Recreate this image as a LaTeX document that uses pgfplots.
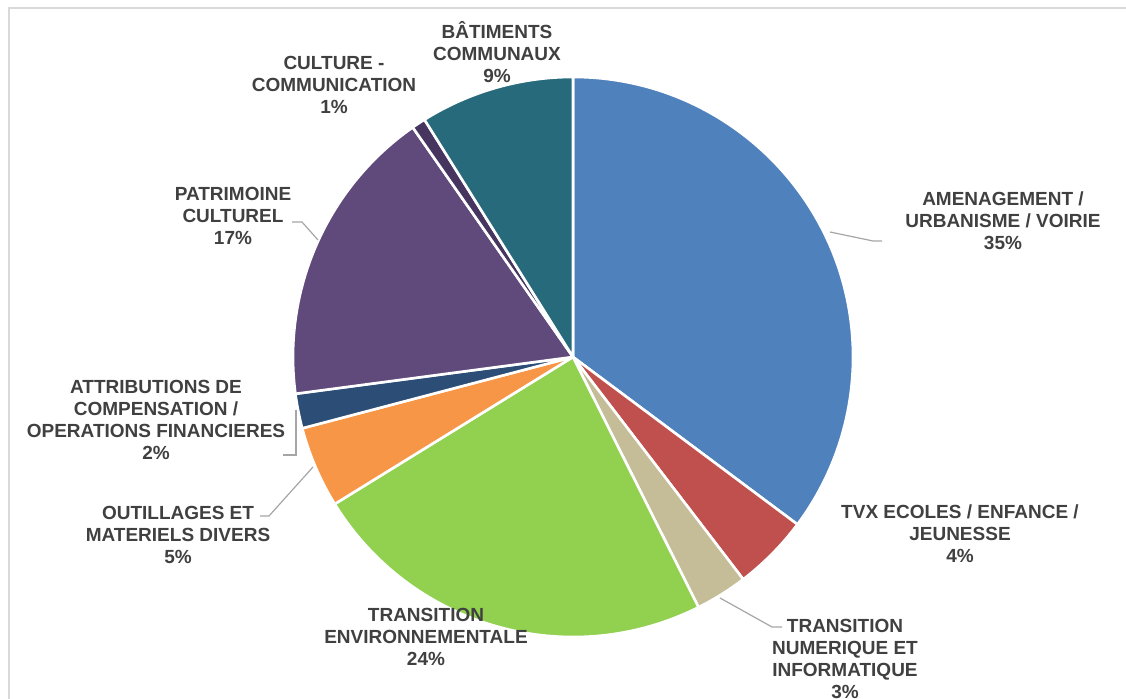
\documentclass[border=0pt]{standalone}
\usepackage{fontspec}
\setmainfont{Liberation Sans}
\usepackage{pgfplots}
\usepackage{pgfplotstable}
\pgfplotsset{compat=1.18}
\definecolor{cA}{HTML}{4F81BD}
\definecolor{cB}{HTML}{C0504D}
\definecolor{cC}{HTML}{C4BD97}
\definecolor{cD}{HTML}{92D050}
\definecolor{cE}{HTML}{F79646}
\definecolor{cF}{HTML}{2C4D75}
\definecolor{cG}{HTML}{604A7B}
\definecolor{cH}{HTML}{45355F}
\definecolor{cI}{HTML}{266A7C}
\definecolor{txt}{HTML}{404040}
\definecolor{lead}{HTML}{A6A6A6}
\definecolor{frame}{HTML}{D9D9D9}
\tikzset{lab/.style={font=\bfseries\fontsize{9.5}{11}\selectfont, text=txt, align=center, inner sep=0pt}}
\pgfplotstableread{
val col
35.2 cA
4.4 cB
3.0 cC
23.6 cD
4.7 cE
2.0 cF
17.4 cG
0.8 cH
8.9 cI
}\piedata
\begin{document}
\begin{tikzpicture}
\begin{axis}[scale only axis, width=563pt, height=349.5pt,
  xmin=0, xmax=1126, ymin=0, ymax=699, hide axis, clip=false]
\draw[frame, line width=1pt] (axis cs:9,0) -- (axis cs:9,691) -- (axis cs:1126,691);
\def\cum{0}
\pgfplotsforeachungrouped \i in {0,...,8}{%
  \pgfplotstablegetelem{\i}{val}\of\piedata \let\sliceval\pgfplotsretval
  \pgfplotstablegetelem{\i}{col}\of\piedata \let\slicecol\pgfplotsretval
  \pgfmathsetmacro\angA{90-3.6*\cum}%
  \pgfmathsetmacro\angB{90-3.6*(\cum+\sliceval)}%
  \edef\temp{\noexpand\fill[fill=\slicecol, draw=white, line width=1.3pt, line join=round] (axis cs:573,342) -- ++(\angA:140pt) arc[start angle=\angA, end angle=\angB, radius=140pt] -- cycle;}%
  \temp
  \pgfmathsetmacro\cum{\cum+\sliceval}%
}
% leader lines
\draw[lead, line width=0.6pt] (axis cs:830,467) -- (axis cs:873,458) -- (axis cs:882,458);
\draw[lead, line width=0.6pt] (axis cs:720,101) -- (axis cs:772,72) -- (axis cs:782,72);
\draw[lead, line width=0.6pt] (axis cs:313,232) -- (axis cs:269,183) -- (axis cs:260,183);
\draw[lead, line width=0.6pt] (axis cs:296,289) -- (axis cs:296,244) -- (axis cs:283,244);
\draw[lead, line width=0.6pt] (axis cs:318,459) -- (axis cs:302,477) -- (axis cs:292,477);
% labels
\node[lab] at (axis cs:1003,478) {AMENAGEMENT /\\URBANISME / VOIRIE\\35\%};
\node[lab] at (axis cs:960,165) {TVX ECOLES / ENFANCE /\\JEUNESSE\\4\%};
\node[lab] at (axis cs:845,40) {TRANSITION\\NUMERIQUE ET\\INFORMATIQUE\\3\%};
\node[lab] at (axis cs:426,62) {TRANSITION\\ENVIRONNEMENTALE\\24\%};
\node[lab] at (axis cs:178,164) {OUTILLAGES ET\\MATERIELS DIVERS\\5\%};
\node[lab] at (axis cs:156,279) {ATTRIBUTIONS DE\\COMPENSATION /\\OPERATIONS FINANCIERES\\2\%};
\node[lab] at (axis cs:233,483) {PATRIMOINE\\CULTUREL\\17\%};
\node[lab] at (axis cs:334,614) {CULTURE -\\COMMUNICATION\\1\%};
\node[lab] at (axis cs:497,647) {BÂTIMENTS\\COMMUNAUX\\9\%};
\end{axis}
\pgfresetboundingbox
\path (current axis.south west) rectangle (current axis.north east);
\end{tikzpicture}
\end{document}
